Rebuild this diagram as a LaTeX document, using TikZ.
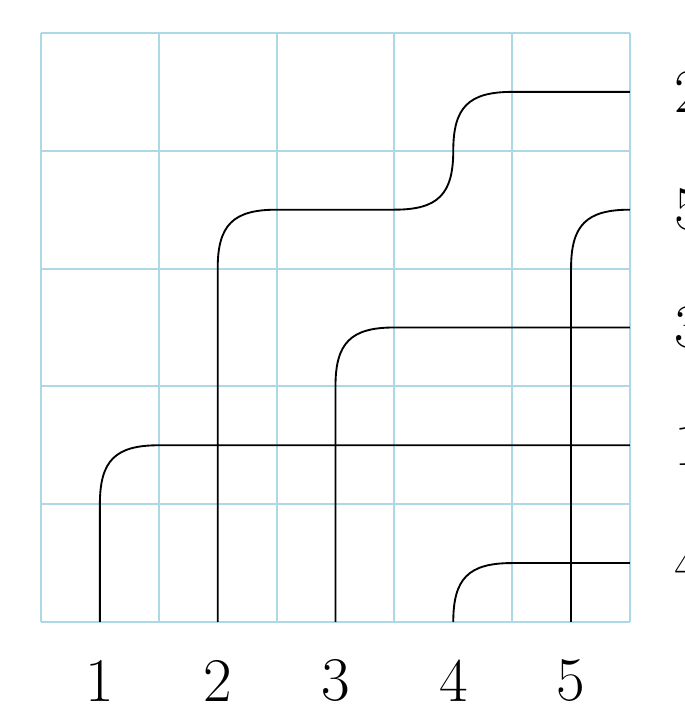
\documentclass[tikz,border=0pt]{standalone}
\begin{document}
\begin{tikzpicture}[
  gridline/.style={draw={rgb,255:red,173;green,216;blue,230}, line width=0.45pt},
  wire/.style={draw=black, line width=0.45pt},
  lab/.style={font=\fontsize{15}{18}\selectfont, inner sep=0pt}
]
\def\k{0.37}
\useasboundingbox (-0.348,-0.722) rectangle (5.467,5.28);
\draw[gridline] (0,0) grid (5,5);
% bottom labels
\foreach \i in {1,...,5} {
  \node[lab] (b\i) at (\i-0.5,-0.5) {\i};
  \coordinate (s\i) at (\i-0.5,0);
}
% right labels
\node[lab] (r2) at (5.5,4.5) {2};
\node[lab] (r5) at (5.5,3.5) {5};
\node[lab] (r3) at (5.5,2.5) {3};
\node[lab] (r1) at (5.5,1.5) {1};
\node[lab] (r4) at (5.5,0.5) {4};
\coordinate (e2) at (5,4.5);
\coordinate (e5) at (5,3.5);
\coordinate (e3) at (5,2.5);
\coordinate (e1) at (5,1.5);
\coordinate (e4) at (5,0.5);
% wires
\draw[wire] (s1) -- (0.5,1) .. controls +(0,\k) and +(-\k,0) .. (1,1.5) -- (e1);
\draw[wire] (s2) -- (1.5,3) .. controls +(0,\k) and +(-\k,0) .. (2,3.5) -- (3,3.5)
  .. controls +(\k,0) and +(0,-\k) .. (3.5,4)
  .. controls +(0,\k) and +(-\k,0) .. (4,4.5) -- (e2);
\draw[wire] (s3) -- (2.5,2) .. controls +(0,\k) and +(-\k,0) .. (3,2.5) -- (e3);
\draw[wire] (s4) .. controls +(0,\k) and +(-\k,0) .. (4,0.5) -- (e4);
\draw[wire] (s5) -- (4.5,3) .. controls +(0,\k) and +(-\k,0) .. (e5);
\end{tikzpicture}
\end{document}
